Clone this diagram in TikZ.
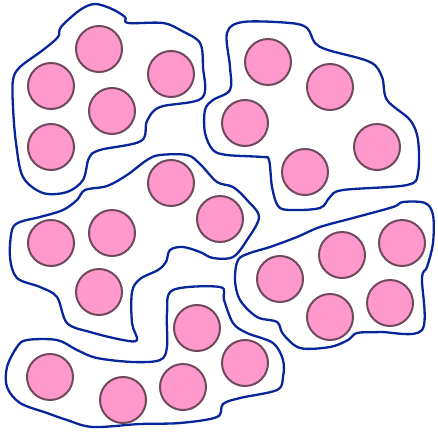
\documentclass[tikz,border=0pt]{standalone}
\usepackage{xcolor}
\usepackage{tikz}
\usetikzlibrary{positioning}
\definecolor{cellFill}{HTML}{FF99CC}
\definecolor{cellEdge}{HTML}{6E4A5C}
\definecolor{blobEdge}{HTML}{08259A}
\tikzset{
  cell/.style={circle, draw=cellEdge, fill=cellFill, line width=2pt, minimum size=46pt, inner sep=0pt},
  colony/.style={draw=blobEdge, line width=2.3pt, line join=round}
}
\begin{document}
\begin{tikzpicture}[x=1pt, y=-1pt]
  \useasboundingbox (0,0) rectangle (438,431);
  % colony outlines
  \draw[colony] plot[smooth cycle, tension=0.55] coordinates {
    (95,4) (112,9) (125,17) (128,23) (163,23) (182,31) (200,43) (203,67) (202,98)
    (160,107) (147,121) (141,141) (100,150) (89,158) (83,180) (67,192) (43,193)
    (23,177) (16,143) (13,107) (13,80) (20,67) (43,50) (58,37) (61,27) (80,10)};
  \draw[colony] plot[smooth cycle, tension=0.55] coordinates {
    (243,22) (290,23) (307,28) (315,43) (328,50) (370,62) (382,77) (387,100)
    (410,120) (418,140) (418,173) (407,185) (343,190) (330,197) (320,208) (290,210)
    (278,206) (272,187) (269,160) (262,157) (227,155) (213,150) (205,133) (205,110)
    (213,100) (230,90) (230,67) (227,33)};
  \draw[colony] plot[smooth cycle, tension=0.55] coordinates {
    (160,155) (187,155) (200,164) (217,182) (233,187) (247,200) (259,217) (247,240)
    (233,257) (213,258) (200,252) (183,247) (170,250) (166,262) (158,270) (140,279)
    (132,292) (132,323) (137,340) (123,340) (90,332) (67,323) (57,297) (40,287)
    (17,278) (10,257) (12,230) (20,222) (40,217) (63,210) (77,200) (85,190)
    (107,186) (127,175) (147,160)};
  \draw[colony] plot[smooth cycle, tension=0.55] coordinates {
    (403,202) (425,203) (433,215) (433,243) (427,267) (422,278) (422,330) (380,332)
    (357,333) (348,340) (330,347) (300,348) (283,334) (277,322) (257,317) (240,300)
    (235,280) (238,260) (250,253) (270,247) (297,237) (320,227) (353,218) (393,207)};
  \draw[colony] plot[smooth cycle, tension=0.55] coordinates {
    (173,290) (220,287) (224,300) (233,323) (247,333) (273,343) (283,360) (283,377)
    (277,390) (240,398) (223,404) (217,417) (180,423) (140,424) (93,427) (67,420)
    (47,413) (20,403) (7,387) (7,367) (17,347) (27,340) (57,340) (77,350)
    (97,358) (133,362) (160,360) (167,347) (167,313)};
  % cells
  \foreach \x/\y/\n in {
      99/49/a1, 51/86/a2, 171/74/a3, 112/111/a4, 51/147/a5,
      268/62/b1, 330/87/b2, 245/123/b3, 377/147/b4, 305/172/b5,
      171/183/c1, 220/219/c2, 51/243/c3, 112/233/c4, 99/292/c5,
      342/255/d1, 402/243/d2, 280/279/d3, 330/317/d4, 390/303/d5,
      50/377/e1, 123/400/e2, 197/328/e3, 183/387/e4, 245/363/e5}
    \node[cell] (\n) at (\x,\y) {};
\end{tikzpicture}
\end{document}
